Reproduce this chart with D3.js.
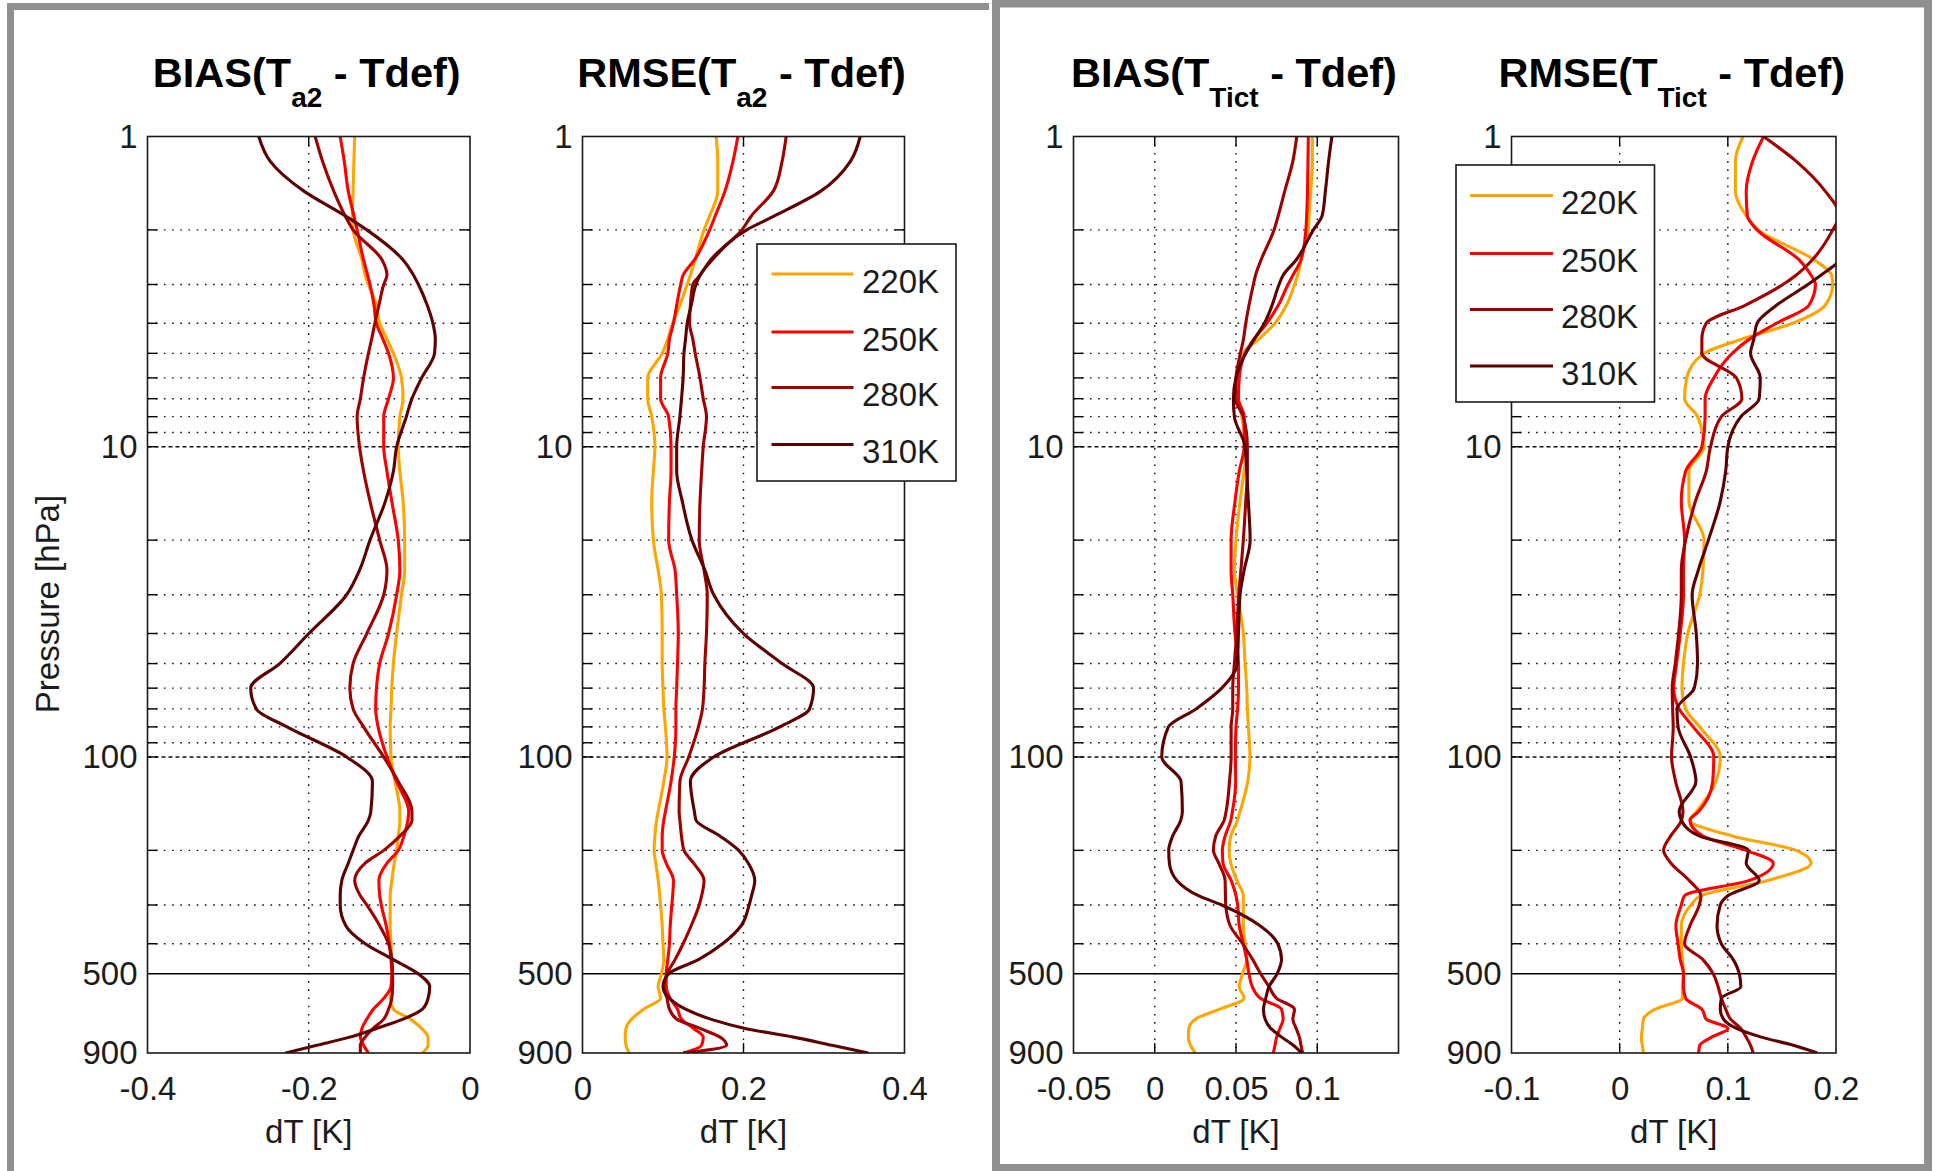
<!DOCTYPE html>
<html><head><meta charset="utf-8">
<script src="https://cdn.jsdelivr.net/npm/d3@7"></script>
<style>
html,body{margin:0;padding:0;background:#fff;}
svg{display:block;}
text{font-family:"Liberation Sans",Arial,Helvetica,sans-serif;fill:#1c1c1c;}
</style></head><body>
<svg id="chart" width="1933" height="1171"></svg>
<script>
// ---------------- DATA ----------------
const levels = [1, 1.2, 1.5, 1.8, 2, 2.5, 2.8, 3, 3.5, 4, 4.5, 5, 6, 7, 8, 10, 12, 15, 20, 25, 30, 40, 50, 60, 70, 80, 100, 120, 150, 160, 180, 200, 220, 250, 280, 300, 350, 400, 450, 500, 550, 600, 650, 700, 750, 800, 850, 900];
const seriesNames = ["220K", "250K", "280K", "310K"];

// BIAS(T_a2 - Tdef)
const biasA2_220 = [-0.143, -0.144, -0.145, -0.146, -0.145, -0.134, -0.130, -0.126, -0.116, -0.112, -0.103, -0.095, -0.085, -0.083, -0.087, -0.089, -0.087, -0.083, -0.081, -0.081, -0.085, -0.091, -0.095, -0.097, -0.098, -0.099, -0.098, -0.093, -0.087, -0.087, -0.089, -0.091, -0.094, -0.097, -0.099, -0.099, -0.099, -0.098, -0.097, -0.096, -0.097, -0.099, -0.095, -0.074, -0.060, -0.052, -0.052, -0.059];
const biasA2_250 = [-0.161, -0.156, -0.151, -0.144, -0.140, -0.132, -0.127, -0.124, -0.119, -0.116, -0.108, -0.101, -0.095, -0.101, -0.107, -0.107, -0.103, -0.097, -0.089, -0.087, -0.091, -0.101, -0.112, -0.116, -0.117, -0.114, -0.103, -0.091, -0.076, -0.077, -0.082, -0.089, -0.103, -0.113, -0.112, -0.110, -0.104, -0.100, -0.098, -0.097, -0.098, -0.107, -0.120, -0.128, -0.134, -0.136, -0.132, -0.126];
const biasA2_280 = [-0.192, -0.183, -0.169, -0.155, -0.145, -0.109, -0.103, -0.107, -0.113, -0.118, -0.122, -0.126, -0.132, -0.136, -0.140, -0.137, -0.132, -0.124, -0.112, -0.103, -0.107, -0.128, -0.145, -0.149, -0.145, -0.132, -0.107, -0.089, -0.072, -0.072, -0.087, -0.107, -0.130, -0.143, -0.136, -0.128, -0.112, -0.101, -0.097, -0.096, -0.096, -0.097, -0.101, -0.107, -0.120, -0.130, -0.136, -0.136];
const biasA2_310 = [-0.262, -0.248, -0.206, -0.155, -0.128, -0.083, -0.070, -0.064, -0.053, -0.046, -0.043, -0.044, -0.060, -0.072, -0.079, -0.091, -0.095, -0.105, -0.124, -0.137, -0.153, -0.200, -0.236, -0.272, -0.265, -0.227, -0.153, -0.121, -0.123, -0.126, -0.138, -0.145, -0.151, -0.159, -0.161, -0.161, -0.154, -0.130, -0.095, -0.064, -0.050, -0.052, -0.059, -0.083, -0.116, -0.149, -0.190, -0.229];

// RMSE(T_a2 - Tdef)
const rmseA2_220 = [0.166, 0.168, 0.168, 0.158, 0.151, 0.140, 0.134, 0.130, 0.121, 0.112, 0.106, 0.099, 0.081, 0.081, 0.086, 0.090, 0.088, 0.086, 0.088, 0.094, 0.098, 0.099, 0.099, 0.100, 0.101, 0.103, 0.105, 0.101, 0.094, 0.092, 0.090, 0.089, 0.091, 0.094, 0.096, 0.097, 0.099, 0.100, 0.101, 0.098, 0.094, 0.097, 0.076, 0.061, 0.054, 0.053, 0.054, 0.058];
const rmseA2_250 = [0.193, 0.187, 0.177, 0.165, 0.158, 0.139, 0.125, 0.122, 0.117, 0.113, 0.108, 0.106, 0.097, 0.097, 0.107, 0.110, 0.110, 0.108, 0.107, 0.115, 0.117, 0.119, 0.118, 0.117, 0.116, 0.116, 0.114, 0.110, 0.103, 0.101, 0.099, 0.099, 0.104, 0.113, 0.112, 0.111, 0.109, 0.108, 0.106, 0.104, 0.104, 0.109, 0.118, 0.123, 0.138, 0.150, 0.148, 0.126];
const rmseA2_280 = [0.253, 0.248, 0.237, 0.210, 0.198, 0.159, 0.146, 0.137, 0.134, 0.133, 0.137, 0.140, 0.146, 0.150, 0.154, 0.150, 0.148, 0.146, 0.145, 0.151, 0.155, 0.154, 0.152, 0.151, 0.149, 0.144, 0.132, 0.121, 0.120, 0.121, 0.123, 0.126, 0.138, 0.151, 0.148, 0.145, 0.135, 0.125, 0.115, 0.105, 0.101, 0.105, 0.108, 0.117, 0.146, 0.171, 0.179, 0.125];
const rmseA2_310 = [0.345, 0.333, 0.296, 0.239, 0.204, 0.161, 0.146, 0.141, 0.135, 0.130, 0.128, 0.126, 0.125, 0.123, 0.121, 0.117, 0.117, 0.124, 0.136, 0.152, 0.163, 0.200, 0.248, 0.287, 0.282, 0.245, 0.163, 0.134, 0.139, 0.141, 0.171, 0.194, 0.206, 0.214, 0.210, 0.207, 0.197, 0.174, 0.144, 0.107, 0.100, 0.108, 0.128, 0.159, 0.202, 0.262, 0.310, 0.355];

// BIAS(T_Tict - Tdef)
const biasTict_220 = [0.097, 0.097, 0.096, 0.095, 0.0945, 0.090, 0.088, 0.086, 0.081, 0.074, 0.064, 0.0545, 0.051, 0.0515, 0.0535, 0.0565, 0.055, 0.0525, 0.050, 0.049, 0.051, 0.0545, 0.0556, 0.0566, 0.057, 0.0576, 0.0586, 0.0572, 0.0525, 0.0509, 0.0468, 0.0457, 0.0468, 0.0505, 0.0545, 0.0545, 0.0545, 0.0556, 0.0566, 0.054, 0.052, 0.055, 0.040, 0.025, 0.021, 0.0207, 0.022, 0.025];
const biasTict_250 = [0.0945, 0.0943, 0.094, 0.0935, 0.093, 0.090, 0.085, 0.082, 0.076, 0.069, 0.061, 0.0556, 0.052, 0.0515, 0.055, 0.055, 0.052, 0.0494, 0.047, 0.047, 0.048, 0.0494, 0.0515, 0.0515, 0.051, 0.050, 0.0496, 0.0498, 0.0478, 0.0468, 0.0433, 0.0416, 0.042, 0.047, 0.050, 0.051, 0.052, 0.0545, 0.0566, 0.058, 0.060, 0.065, 0.078, 0.079, 0.077, 0.075, 0.074, 0.073];
const biasTict_280 = [0.0874, 0.085, 0.080, 0.076, 0.0734, 0.0654, 0.062, 0.0607, 0.058, 0.056, 0.0546, 0.0527, 0.050, 0.0496, 0.0545, 0.057, 0.057, 0.056, 0.0545, 0.053, 0.0517, 0.0504, 0.049, 0.048, 0.048, 0.047, 0.047, 0.046, 0.0439, 0.0427, 0.0375, 0.0361, 0.0394, 0.0433, 0.0435, 0.0437, 0.0464, 0.0541, 0.0603, 0.0652, 0.0703, 0.075, 0.086, 0.085, 0.087, 0.089, 0.090, 0.091];
const biasTict_310 = [0.109, 0.107, 0.105, 0.103, 0.0976, 0.087, 0.079, 0.0765, 0.0722, 0.0675, 0.0613, 0.056, 0.050, 0.0484, 0.049, 0.0556, 0.0566, 0.0576, 0.0587, 0.055, 0.0525, 0.0515, 0.0508, 0.0412, 0.0254, 0.0084, 0.0043, 0.0162, 0.017, 0.016, 0.011, 0.0086, 0.009, 0.0136, 0.0269, 0.0412, 0.0648, 0.0757, 0.078, 0.0753, 0.0703, 0.0683, 0.0669, 0.0679, 0.0714, 0.0781, 0.0853, 0.0904];

// RMSE(T_Tict - Tdef)
const rmseTict_220 = [0.114, 0.107, 0.107, 0.117, 0.128, 0.180, 0.196, 0.197, 0.190, 0.160, 0.113, 0.078, 0.062, 0.060, 0.072, 0.078, 0.064, 0.064, 0.078, 0.077, 0.074, 0.063, 0.059, 0.0576, 0.061, 0.074, 0.093, 0.089, 0.071, 0.065, 0.105, 0.163, 0.177, 0.137, 0.075, 0.066, 0.057, 0.057, 0.058, 0.059, 0.058, 0.058, 0.033, 0.022, 0.021, 0.020, 0.021, 0.022];
const rmseTict_250 = [0.133, 0.123, 0.117, 0.118, 0.127, 0.166, 0.177, 0.181, 0.175, 0.145, 0.120, 0.104, 0.087, 0.079, 0.079, 0.076, 0.061, 0.057, 0.060, 0.059, 0.059, 0.056, 0.0526, 0.050, 0.055, 0.068, 0.087, 0.086, 0.073, 0.065, 0.077, 0.117, 0.142, 0.120, 0.060, 0.057, 0.052, 0.054, 0.056, 0.059, 0.059, 0.061, 0.076, 0.080, 0.100, 0.085, 0.074, 0.073];
const rmseTict_280 = [0.133, 0.163, 0.190, 0.203, 0.197, 0.178, 0.163, 0.151, 0.116, 0.080, 0.076, 0.076, 0.108, 0.113, 0.094, 0.084, 0.080, 0.070, 0.061, 0.057, 0.057, 0.0545, 0.0514, 0.0486, 0.049, 0.0495, 0.048, 0.0517, 0.0585, 0.0572, 0.047, 0.0406, 0.0474, 0.0643, 0.0751, 0.0736, 0.065, 0.060, 0.077, 0.0865, 0.091, 0.094, 0.098, 0.1025, 0.112, 0.117, 0.121, 0.1235];
const rmseTict_310 = [0.27, 0.26, 0.25, 0.235, 0.225, 0.205, 0.186, 0.174, 0.145, 0.127, 0.124, 0.121, 0.130, 0.129, 0.112, 0.100, 0.098, 0.093, 0.082, 0.0727, 0.067, 0.0708, 0.072, 0.069, 0.053, 0.054, 0.0656, 0.0705, 0.055, 0.057, 0.074, 0.119, 0.117, 0.129, 0.100, 0.093, 0.090, 0.094, 0.105, 0.1106, 0.112, 0.094, 0.093, 0.096, 0.108, 0.131, 0.1605, 0.1827];

// ticks
const xTicksBiasA2 = [-0.4, -0.2, 0];
const xTicksRmseA2 = [0, 0.2, 0.4];
const xTicksBiasTict = [-0.05, 0, 0.05, 0.1];
const xTicksRmseTict = [-0.1, 0, 0.1, 0.2];
const yTickLabels = [1, 10, 100, 500, 900];
const yMinorGrid = [2, 3, 4, 5, 6, 7, 8, 9, 20, 30, 40, 50, 60, 70, 80, 90, 200, 300, 400];
const yMajorGrid = [10, 100];
const refLevel = 500;

// ---------------- STYLE / LAYOUT ----------------
const colors = ["#ffa500", "#ff0000", "#a00000", "#5e0000"];
const FONT = '"Liberation Sans", Arial, Helvetica, sans-serif';
const panels = [
  {title: ["BIAS(T", "a2", " - Tdef)"], domain: [-0.4, 0], ticks: xTicksBiasA2, data: [biasA2_220, biasA2_250, biasA2_280, biasA2_310], x0: 147.5, x1: 470, ylabel: true, legend: null},
  {title: ["RMSE(T", "a2", " - Tdef)"], domain: [0, 0.4], ticks: xTicksRmseA2, data: [rmseA2_220, rmseA2_250, rmseA2_280, rmseA2_310], x0: 582.5, x1: 904.5, ylabel: false, legend: {x: 757, y: 244, w: 199, h: 237, rows: [274, 332, 387.5, 444.5], lx0: 771.5, lx1: 853.5, tx: 862}},
  {title: ["BIAS(T", "Tict", " - Tdef)"], domain: [-0.05, 0.15], ticks: xTicksBiasTict, data: [biasTict_220, biasTict_250, biasTict_280, biasTict_310], x0: 1073.5, x1: 1398.5, ylabel: false, legend: null},
  {title: ["RMSE(T", "Tict", " - Tdef)"], domain: [-0.1, 0.2], ticks: xTicksRmseTict, data: [rmseTict_220, rmseTict_250, rmseTict_280, rmseTict_310], x0: 1511.5, x1: 1836, ylabel: false, legend: {x: 1456, y: 165, w: 198.5, h: 237, rows: [195.5, 253.5, 309.5, 366], lx0: 1470, lx1: 1553, tx: 1561}}
];
const yTop = 136.5, yBot = 1053;

const svg = d3.select("#chart");
svg.append("rect").attr("width", 1933).attr("height", 1171).attr("fill", "#fff");

// gray frames (two pasted figures)
svg.append("path").attr("d", "M10.5,1175 V6.5 H989").attr("fill", "none")
  .attr("stroke", "#8f8f8f").attr("stroke-width", 7);
svg.append("rect").attr("x", 996).attr("y", 3.5).attr("width", 932).attr("height", 1164.5)
  .attr("fill", "none").attr("stroke", "#8f8f8f").attr("stroke-width", 8);

const y = d3.scaleLog().domain([1, 900]).range([yTop, yBot]);
const defs = svg.append("defs");

panels.forEach((p, i) => {
  const x = d3.scaleLinear().domain(p.domain).range([p.x0, p.x1]);
  const g = svg.append("g");
  const cx = (p.x0 + p.x1) / 2;

  // title
  const t = g.append("text").attr("x", cx - 2).attr("y", 87).attr("text-anchor", "middle")
    .attr("font-weight", "bold").attr("font-size", 41.5).style("fill", "#000");
  t.append("tspan").text(p.title[0]);
  t.append("tspan").attr("font-size", 28).attr("dy", 20).text(p.title[1]);
  t.append("tspan").attr("font-size", 41.5).attr("dy", -20).text(p.title[2]);

  // horizontal minor grid
  g.selectAll(".hgrid").data(yMinorGrid).join("line")
    .attr("x1", p.x0).attr("x2", p.x1).attr("y1", d => y(d)).attr("y2", d => y(d))
    .attr("stroke", "#111").attr("stroke-width", 1.4).attr("stroke-dasharray", "1.6,6.6");
  g.selectAll(".hmaj").data(yMajorGrid).join("line")
    .attr("x1", p.x0).attr("x2", p.x1).attr("y1", d => y(d)).attr("y2", d => y(d))
    .attr("stroke", "#111").attr("stroke-width", 1.4).attr("stroke-dasharray", "4,3");
  // vertical grid at interior ticks
  const inner = p.ticks.filter(v => v > p.domain[0] + 1e-9 && v < p.domain[1] - 1e-9);
  g.selectAll(".vgrid").data(inner).join("line")
    .attr("x1", d => x(d)).attr("x2", d => x(d)).attr("y1", yTop).attr("y2", yBot)
    .attr("stroke", "#111").attr("stroke-width", 1.4).attr("stroke-dasharray", "1.6,6.6");

  // ticks inside (left/right for y, top/bottom for x)
  const yTickAll = yMinorGrid.concat(yMajorGrid);
  g.selectAll(".ytl").data(yTickAll).join("line")
    .attr("x1", p.x0).attr("x2", p.x0 + 10).attr("y1", d => y(d)).attr("y2", d => y(d))
    .attr("stroke", "#000").attr("stroke-width", 1.4);
  g.selectAll(".ytr").data(yTickAll).join("line")
    .attr("x1", p.x1 - 10).attr("x2", p.x1).attr("y1", d => y(d)).attr("y2", d => y(d))
    .attr("stroke", "#000").attr("stroke-width", 1.4);
  g.selectAll(".xtt").data(inner).join("line")
    .attr("x1", d => x(d)).attr("x2", d => x(d)).attr("y1", yTop).attr("y2", yTop + 10)
    .attr("stroke", "#000").attr("stroke-width", 1.4);
  g.selectAll(".xtb").data(inner).join("line")
    .attr("x1", d => x(d)).attr("x2", d => x(d)).attr("y1", yBot - 10).attr("y2", yBot)
    .attr("stroke", "#000").attr("stroke-width", 1.4);

  // 500 hPa reference line
  g.append("line").attr("x1", p.x0).attr("x2", p.x1).attr("y1", y(refLevel)).attr("y2", y(refLevel))
    .attr("stroke", "#000").attr("stroke-width", 1.6);

  // curves
  const clipId = "clip" + i;
  defs.append("clipPath").attr("id", clipId).append("rect")
    .attr("x", p.x0).attr("y", yTop).attr("width", p.x1 - p.x0).attr("height", yBot - yTop);
  const line = d3.line().x(d => x(d[1])).y(d => y(d[0])).curve(d3.curveMonotoneY);
  const cg = g.append("g").attr("clip-path", `url(#${clipId})`);
  p.data.forEach((vals, k) => {
    const pts = levels.map((lv, j) => [lv, vals[j]]);
    cg.append("path").attr("d", line(pts)).attr("fill", "none")
      .attr("stroke", colors[k]).attr("stroke-width", 3.1).attr("stroke-linejoin", "round");
  });

  // box
  g.append("rect").attr("x", p.x0).attr("y", yTop).attr("width", p.x1 - p.x0).attr("height", yBot - yTop)
    .attr("fill", "none").attr("stroke", "#1a1a1a").attr("stroke-width", 1.6);

  // y axis labels
  const ya = d3.axisLeft(y).tickValues(yTickLabels).tickSize(0).tickPadding(10).tickFormat(d => String(d));
  const yg = g.append("g").attr("transform", `translate(${p.x0},0)`).call(ya);
  yg.select(".domain").remove();
  yg.selectAll("text").attr("font-size", 33).attr("font-family", FONT).style("fill", "#1c1c1c");

  // x axis labels
  const xa = d3.axisBottom(x).tickValues(p.ticks).tickSize(0).tickPadding(24).tickFormat(d => String(d));
  const xg = g.append("g").attr("transform", `translate(0,${yBot})`).call(xa);
  xg.select(".domain").remove();
  xg.selectAll("text").attr("font-size", 33).attr("font-family", FONT).style("fill", "#1c1c1c");

  g.append("text").attr("x", cx).attr("y", 1143).attr("text-anchor", "middle")
    .attr("font-size", 33).text("dT [K]");

  if (p.ylabel) {
    g.append("text").attr("transform", `translate(59,604) rotate(-90)`).attr("text-anchor", "middle")
      .attr("font-size", 33).text("Pressure [hPa]");
  }

  if (p.legend) {
    const L = p.legend;
    const lg = g.append("g");
    lg.append("rect").attr("x", L.x).attr("y", L.y).attr("width", L.w).attr("height", L.h)
      .attr("fill", "#fff").attr("stroke", "#1a1a1a").attr("stroke-width", 1.6);
    seriesNames.forEach((nm, k) => {
      lg.append("line").attr("x1", L.lx0).attr("x2", L.lx1).attr("y1", L.rows[k]).attr("y2", L.rows[k])
        .attr("stroke", colors[k]).attr("stroke-width", 3);
      lg.append("text").attr("x", L.tx).attr("y", L.rows[k] + 7).attr("dy", "0.36em")
        .attr("font-size", 33).text(nm);
    });
  }
});
</script>
</body></html>
